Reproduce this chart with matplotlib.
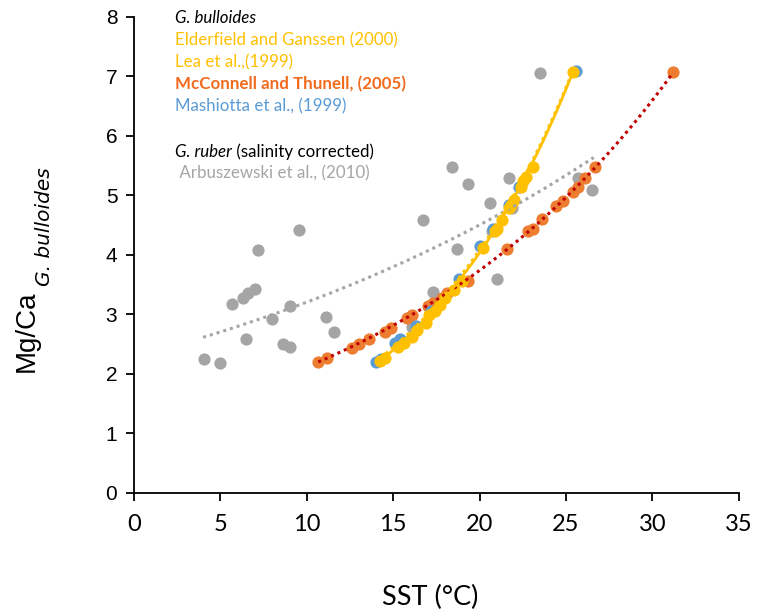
import numpy as np
import matplotlib
matplotlib.use("Agg")
import matplotlib.pyplot as plt

# ---------------- data ----------------
# G. ruber, Arbuszewski et al. (2010) - grey
ruber_sst = [4.06, 5.0, 5.7, 6.3, 6.6, 7.0, 6.5, 7.2, 8.0, 8.6, 9.0, 9.0, 9.56,
             11.1, 11.6, 16.1, 16.7, 17.3, 18.4, 18.7, 19.3, 20.7, 20.6, 21.0,
             21.7, 21.9, 23.5, 25.7, 26.5]
ruber_mgca = [2.25, 2.18, 3.18, 3.28, 3.36, 3.43, 2.59, 4.08, 2.92, 2.50, 2.45, 3.13, 4.42,
              2.96, 2.71, 2.79, 4.59, 3.38, 5.48, 4.10, 5.18, 4.39, 4.87, 3.60,
              5.28, 4.79, 7.06, 5.29, 5.08]

# McConnell and Thunell (2005) - orange
mct_sst = [10.66, 11.15, 12.6, 13.0, 13.6, 14.5, 14.9, 15.8, 16.1, 17.0, 17.3, 17.8, 18.1,
           19.3, 21.6, 22.8, 23.1, 23.6, 24.4, 24.8, 25.4, 25.7, 26.1, 26.7, 31.2]
mct_mgca = [2.20, 2.26, 2.44, 2.50, 2.59, 2.71, 2.77, 2.94, 2.98, 3.14, 3.19, 3.28, 3.35,
            3.56, 4.10, 4.39, 4.44, 4.60, 4.82, 4.90, 5.06, 5.14, 5.28, 5.48, 7.07]

# Elderfield and Ganssen (2000) / Lea et al. (1999) - yellow
eg_sst = [14.25, 14.5, 15.3, 15.6, 16.1, 16.4, 16.9, 17.1, 17.4, 17.7, 18.0, 18.5, 19.0,
          20.2, 20.9, 21.0, 21.3, 21.7, 21.8, 22.0, 22.4, 22.5, 22.7, 23.1, 25.4]
eg_mgca = [2.22, 2.27, 2.45, 2.52, 2.62, 2.74, 2.85, 2.99, 3.06, 3.16, 3.27, 3.41, 3.55,
           4.12, 4.40, 4.44, 4.59, 4.78, 4.84, 4.92, 5.14, 5.23, 5.31, 5.48, 7.07]

# Mashiotta et al. (1999) - blue
mash_sst = [14.0, 14.3, 15.1, 15.4, 16.3, 17.2, 18.8, 20.05, 20.8, 21.7, 22.3, 25.55]
mash_mgca = [2.20, 2.24, 2.52, 2.58, 2.80, 3.05, 3.60, 4.14, 4.43, 4.83, 5.14, 7.09]

# exponential trend lines  Mg/Ca = a * exp(b * SST), and their SST ranges
ruber_fit = (2.28, 0.034, 4.0, 26.6)
mct_fit = (1.20, 0.0568, 10.66, 31.2)
eg_fit = (0.505, 0.1039, 14.25, 25.4)
lea_fit = (0.525, 0.1025, 14.25, 25.3)

x_ticks = [0, 5, 10, 15, 20, 25, 30, 35]
y_ticks = [0, 1, 2, 3, 4, 5, 6, 7, 8]

# ---------------- colours ----------------
GREY = "#A5A5A5"
ORANGE = "#ED7D31"
YELLOW = "#FFC000"
BLUE = "#5B9BD5"
DARKRED = "#C00000"

fig = plt.figure(figsize=(7.57, 6.13), dpi=100)
ax = fig.add_axes([0.177, 0.196, 0.799, 0.777])

ms = 8.8

def trend(fit):
    a, b, x0, x1 = fit
    xs = np.linspace(x0, x1, 200)
    return xs, a * np.exp(b * xs)

ax.plot(ruber_sst, ruber_mgca, "o", color=GREY, ms=ms, mec="none", zorder=2)
ax.plot(mct_sst, mct_mgca, "o", color=ORANGE, ms=ms, mec="none", zorder=3)
ax.plot(mash_sst, mash_mgca, "o", color=BLUE, ms=ms, mec="none", zorder=4)
ax.plot(eg_sst, eg_mgca, "o", color=YELLOW, ms=ms, mec="none", zorder=5)

xs, ys = trend(ruber_fit)
ax.plot(xs, ys, color=GREY, lw=2.2, ls=(0, (1, 1.3)), zorder=6)
xs, ys = trend(mct_fit)
ax.plot(xs, ys, color=DARKRED, lw=2.2, ls=(0, (1, 1.3)), zorder=6)
xs, ys = trend(lea_fit)
ax.plot(xs, ys, color=YELLOW, lw=2.2, ls=(0, (1, 1.3)), zorder=6)
xs, ys = trend(eg_fit)
ax.plot(xs, ys, color=YELLOW, lw=2.0, zorder=6)

ax.set_xlim(0, 35)
ax.set_ylim(0, 8)
ax.set_xticks(x_ticks)
ax.set_yticks(y_ticks)
for s in ("top", "right"):
    ax.spines[s].set_visible(False)
for s in ("left", "bottom"):
    ax.spines[s].set_linewidth(1.3)
    ax.spines[s].set_color("black")
ax.tick_params(axis="both", direction="out", length=6, width=1.3, colors="black")
ax.tick_params(axis="y", labelsize=15, pad=6)
ax.tick_params(axis="x", labelsize=17, pad=9)
for lab in ax.get_yticklabels():
    lab.set_family(["Liberation Sans", "DejaVu Sans"])
for lab in ax.get_xticklabels():
    lab.set_family(["Lato", "DejaVu Sans"])

# axis labels
fig.text(430 / 757, 1 - 597 / 613, "SST (°C)", ha="center", va="center", fontsize=19.5,
         family=["Lato", "DejaVu Sans"])
fig.text(27 / 757, 1 - 331 / 613, "Mg/Ca", rotation=90, ha="center", va="center",
         fontsize=20, family=["Liberation Sans", "DejaVu Sans"])
fig.text(44 / 757, 1 - 286 / 613, "G. bulloides", rotation=90, ha="center", va="bottom",
         fontsize=14.5, style="italic", family=["DejaVu Sans"])

# legend-like text block
fam = ["Lato", "DejaVu Sans"]
lx = 175 / 757
def ytop(py):
    return 1 - py / 613
fs = 12.2
fig.text(lx, ytop(18), "G. bulloides", fontsize=fs, style="italic", color="black", va="center", family=fam)
fig.text(lx, ytop(40), "Elderfield and Ganssen (2000)", fontsize=fs, color=YELLOW, va="center", family=fam)
fig.text(lx, ytop(62), "Lea et al.,(1999)", fontsize=fs, color=YELLOW, va="center", family=fam)
fig.text(lx, ytop(84), "McConnell and Thunell, (2005)", fontsize=fs, color="#F26B1D", va="center",
         fontweight="bold", family=fam)
fig.text(lx, ytop(106), "Mashiotta et al., (1999)", fontsize=fs, color=BLUE, va="center", family=fam)
t1 = fig.text(lx, ytop(152), "G. ruber", fontsize=fs, style="italic", color="black", va="center", family=fam)
fig.canvas.draw()
bb = t1.get_window_extent()
fig.text(bb.x1 / fig.bbox.width, ytop(152), " (salinity corrected)", fontsize=fs, color="black",
         va="center", family=fam)
fig.text(lx, ytop(173), " Arbuszewski et al., (2010)", fontsize=fs, color=GREY, va="center", family=fam)

fig.savefig("out.png", dpi=100)
